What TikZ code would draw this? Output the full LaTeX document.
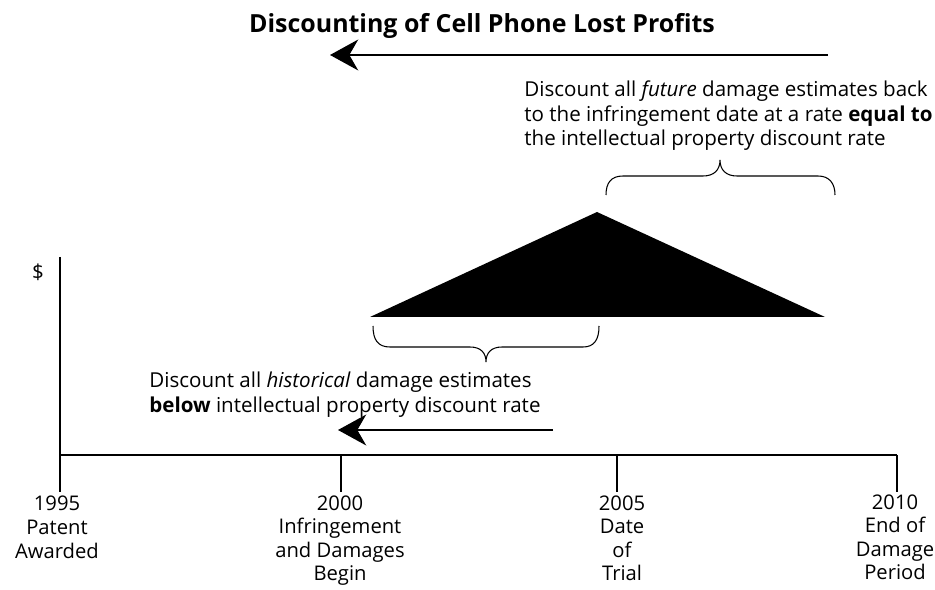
\documentclass[tikz,border=0pt]{standalone}
\usepackage{fontspec}
\setmainfont{Open Sans}
\usetikzlibrary{arrows.meta}

\begin{document}
\begin{tikzpicture}[x=0.02cm,y=-0.02cm,
	txt/.style={font=\fontsize{11.7}{14.2}\selectfont, inner sep=0pt},
	yearlab/.style={font=\fontsize{11.5}{13.4}\selectfont, inner sep=0pt, anchor=north, align=center},
	bigarrow/.style={line width=1.5pt, -{Stealth[length=16pt,width=17.5pt,inset=5pt]}},
	tickline/.style={line width=0.7pt},
	bracepath/.style={line width=0.6pt}]
	\useasboundingbox (0,0) rectangle (935,590);
	
	% Points on the time axis
	\coordinate (O) at (60,455);
	\coordinate (Ytop) at (60,257);
	\coordinate (Yend) at (60,492);
	\coordinate (T2000) at (341,455);
	\coordinate (T2005) at (617,455);
	\coordinate (T2010) at (897,455);
	
	% Axes and ticks
	\draw[tickline] (Ytop) -- (Yend);
	\draw[tickline] (O) -- (T2010);
	\draw[tickline] (T2000) -- ++(0,37);
	\draw[tickline] (T2005) -- ++(0,37);
	\draw[tickline] (T2010) -- ++(0,37);
	
	% Damage triangle
	\coordinate (A) at (370,317);
	\coordinate (B) at (597,212);
	\coordinate (C) at (825,317);
	\fill[black] (A) -- (B) -- (C) -- cycle;
	
	% Arrows
	\coordinate (topR) at (828,55);
	\coordinate (topL) at (330,55);
	\coordinate (lowR) at (553,430);
	\coordinate (lowL) at (338,430);
	\draw[bigarrow] (topR) -- (topL);
	\draw[bigarrow] (lowR) -- (lowL);
	
	% Braces
	\draw[bracepath] (606,195) .. controls (606,183) and (611,176) .. (623,176) -- (703,176)
		.. controls (714,176) and (720,170) .. (720,160)
		.. controls (720,170) and (726,176) .. (737,176) -- (818,176)
		.. controls (829,176) and (835,183) .. (835,195);
	\draw[bracepath] (373,326) .. controls (373,340) and (378,347) .. (390,347) -- (470,347)
		.. controls (481,347) and (486,353) .. (486,362)
		.. controls (486,353) and (491,347) .. (502,347) -- (583,347)
		.. controls (594,347) and (599,340) .. (599,326);
	
	% Texts
	\node[font=\fontsize{14.2}{16}\selectfont\bfseries, inner sep=0pt, anchor=base] (title) at (482,33) {Discounting of Cell Phone Lost Profits};
	\node[txt, anchor=north east, align=left] (future) at (933,80) {Discount all \emph{future} damage estimates back\\to the infringement date at a rate \textbf{equal to}\\the intellectual property discount rate};
	\node[txt, anchor=north west, align=left] (hist) at (149,372) {Discount all \emph{historical} damage estimates\\\textbf{below} intellectual property discount rate};
	\node[txt] (dollar) at (38,272) {\$};
	
	% Year labels
	\node[yearlab] (l1995) at (57,496) {1995\\Patent\\Awarded};
	\node[yearlab] (l2000) at (340,495) {2000\\Infringement\\and Damages\\Begin};
	\node[yearlab] (l2005) at (622,495) {2005\\Date\\of\\Trial};
	\node[yearlab] (l2010) at (895,494) {2010\\End of\\Damage\\Period};
\end{tikzpicture}
\end{document}
